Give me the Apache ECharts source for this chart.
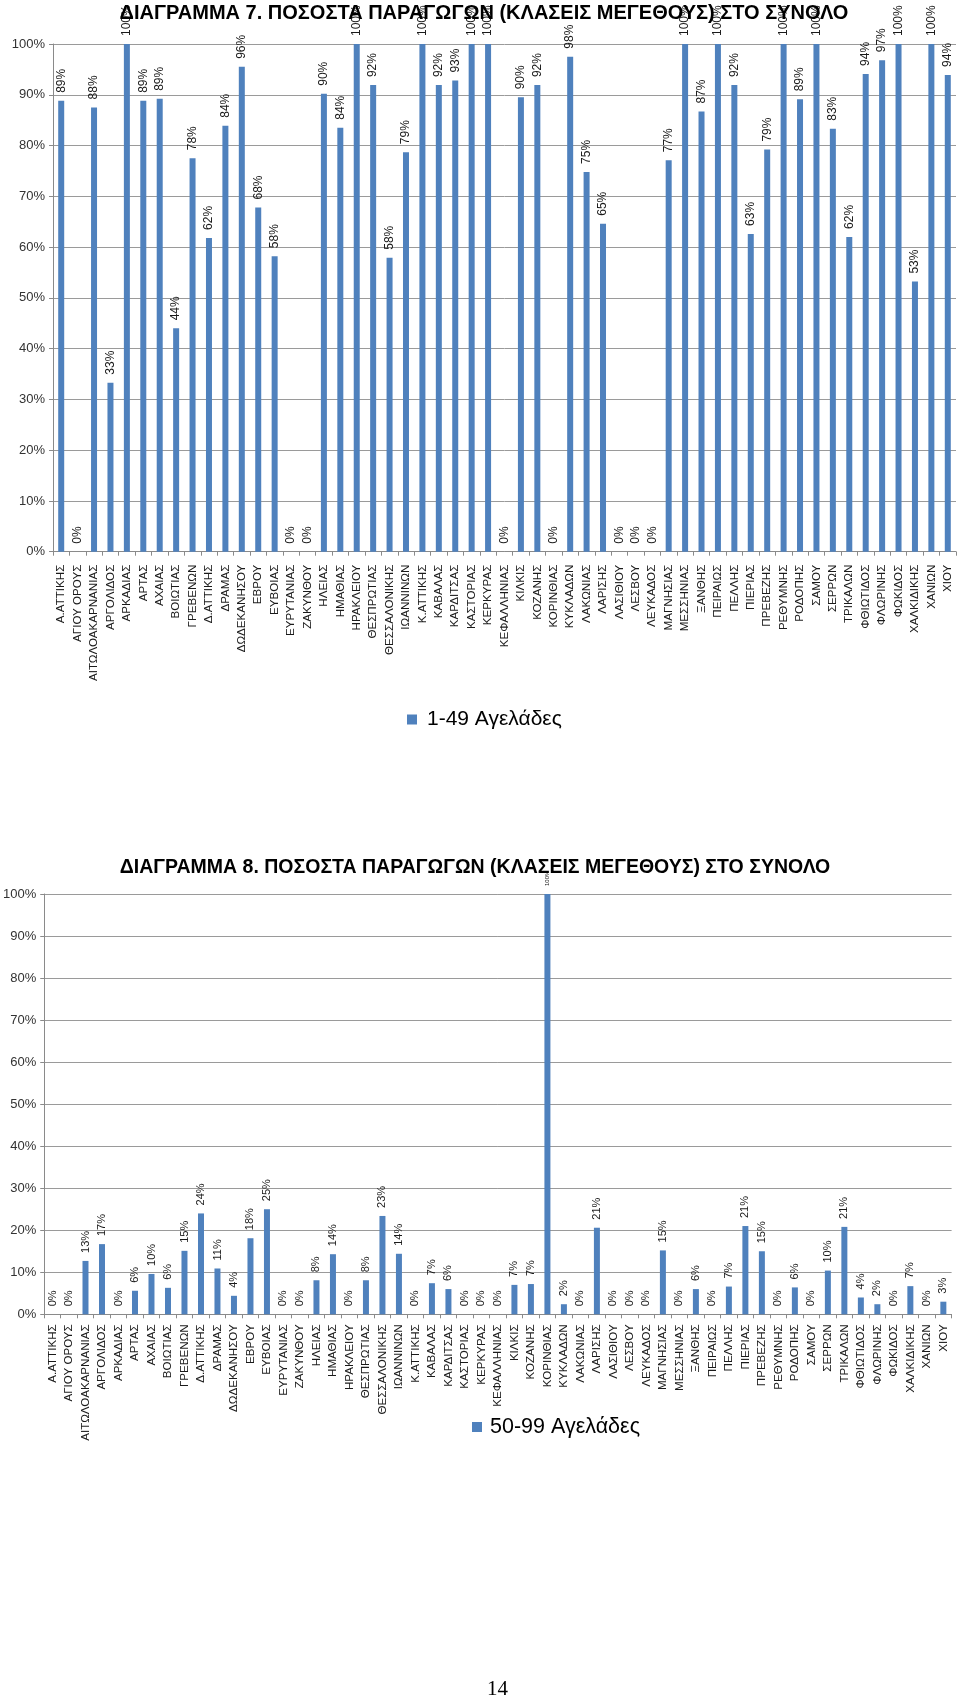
<!DOCTYPE html>
<html>
<head>
<meta charset="utf-8">
<script src="https://cdn.jsdelivr.net/npm/echarts@6/dist/echarts.min.js"></script>
<style>
html,body{margin:0;padding:0;background:#fff;}
#main{width:960px;height:1699px;}
</style>
</head>
<body>
<div id="main"></div>
<script>
const categories = ['Α.ΑΤΤΙΚΗΣ','ΑΓΙΟΥ ΟΡΟΥΣ','ΑΙΤΩΛΟΑΚΑΡΝΑΝΙΑΣ','ΑΡΓΟΛΙΔΟΣ','ΑΡΚΑΔΙΑΣ','ΑΡΤΑΣ','ΑΧΑΙΑΣ','ΒΟΙΩΤΙΑΣ','ΓΡΕΒΕΝΩΝ','Δ.ΑΤΤΙΚΗΣ','ΔΡΑΜΑΣ','ΔΩΔΕΚΑΝΗΣΟΥ','ΕΒΡΟΥ','ΕΥΒΟΙΑΣ','ΕΥΡΥΤΑΝΙΑΣ','ΖΑΚΥΝΘΟΥ','ΗΛΕΙΑΣ','ΗΜΑΘΙΑΣ','ΗΡΑΚΛΕΙΟΥ','ΘΕΣΠΡΩΤΙΑΣ','ΘΕΣΣΑΛΟΝΙΚΗΣ','ΙΩΑΝΝΙΝΩΝ','Κ.ΑΤΤΙΚΗΣ','ΚΑΒΑΛΑΣ','ΚΑΡΔΙΤΣΑΣ','ΚΑΣΤΟΡΙΑΣ','ΚΕΡΚΥΡΑΣ','ΚΕΦΑΛΛΗΝΙΑΣ','ΚΙΛΚΙΣ','ΚΟΖΑΝΗΣ','ΚΟΡΙΝΘΙΑΣ','ΚΥΚΛΑΔΩΝ','ΛΑΚΩΝΙΑΣ','ΛΑΡΙΣΗΣ','ΛΑΣΙΘΙΟΥ','ΛΕΣΒΟΥ','ΛΕΥΚΑΔΟΣ','ΜΑΓΝΗΣΙΑΣ','ΜΕΣΣΗΝΙΑΣ','ΞΑΝΘΗΣ','ΠΕΙΡΑΙΩΣ','ΠΕΛΛΗΣ','ΠΙΕΡΙΑΣ','ΠΡΕΒΕΖΗΣ','ΡΕΘΥΜΝΗΣ','ΡΟΔΟΠΗΣ','ΣΑΜΟΥ','ΣΕΡΡΩΝ','ΤΡΙΚΑΛΩΝ','ΦΘΙΩΤΙΔΟΣ','ΦΛΩΡΙΝΗΣ','ΦΩΚΙΔΟΣ','ΧΑΛΚΙΔΙΚΗΣ','ΧΑΝΙΩΝ','ΧΙΟΥ'];

// ΔΙΑΓΡΑΜΜΑ 7: 1-49 Αγελάδες (%)
const values1to49 = [88.8,0,87.5,33.3,100,88.8,89.2,44.0,77.5,61.8,83.9,95.5,67.8,58.2,0,0,90.2,83.5,100,91.9,57.9,78.7,100,91.9,92.8,100,100,0,89.5,91.9,0,97.5,74.8,64.6,0,0,0,77.1,100,86.7,100,91.9,62.6,79.2,100,89.1,100,83.3,62.0,94.1,96.8,100,53.2,100,93.9];

// ΔΙΑΓΡΑΜΜΑ 8: 50-99 Αγελάδες (%)
const values50to99 = [0,0,12.7,16.7,0,5.6,9.6,6.3,15.1,24.0,10.9,4.4,18.1,25.0,0,0,8.1,14.3,0,8.1,23.4,14.4,0,7.4,6.0,0,0,0,7.0,7.2,100,2.4,0,20.6,0,0,0,15.2,0,6.0,0,6.6,21.0,15.0,0,6.4,0,10.4,20.8,4.0,2.4,0,6.7,0,3.0];

const yTicks = [0,10,20,30,40,50,60,70,80,90,100];

const seriesName1 = '1-49 Αγελάδες';
const seriesName2 = '50-99 Αγελάδες';
const title1 = 'ΔΙΑΓΡΑΜΜΑ 7. ΠΟΣΟΣΤΑ ΠΑΡΑΓΩΓΩΝ (ΚΛΑΣΕΙΣ ΜΕΓΕΘΟΥΣ) ΣΤΟ ΣΥΝΟΛΟ';
const title2 = 'ΔΙΑΓΡΑΜΜΑ 8. ΠΟΣΟΣΤΑ ΠΑΡΑΓΩΓΩΝ (ΚΛΑΣΕΙΣ ΜΕΓΕΘΟΥΣ) ΣΤΟ ΣΥΝΟΛΟ';
const pageNumber = '14';

const BLUE = '#4F81BD';
const GRID = '#9a9a9a';
const FONT = "'Liberation Sans', Arial, sans-serif";

function xAxisCfg(gridIndex, margin) {
  return {
    type: 'category', gridIndex: gridIndex, data: categories,
    axisLine: {lineStyle: {color: '#8a8a8a', width: 1}},
    axisTick: {show: true, interval: 0, length: 4, lineStyle: {color: '#8a8a8a'}},
    axisLabel: {interval: 0, rotate: 90, margin: margin, fontSize: 11.6, color: '#1a1a1a', fontFamily: FONT}
  };
}
function yAxisCfg(gridIndex, fs) {
  return {
    type: 'value', gridIndex: gridIndex, min: yTicks[0], max: yTicks[yTicks.length-1], interval: yTicks[1]-yTicks[0],
    axisLine: {show: true, lineStyle: {color: '#8a8a8a'}},
    axisTick: {show: true, length: 4, lineStyle: {color: '#8a8a8a'}},
    splitLine: {show: true, lineStyle: {color: GRID, width: 1}},
    axisLabel: {formatter: '{value}%', fontSize: fs, color: '#333', margin: 8, fontFamily: FONT}
  };
}
function labelCfg(fs) {
  return {
    show: true, position: 'top', rotate: 90, align: 'left', verticalAlign: 'middle',
    distance: 8, fontSize: fs, color: '#1a1a1a', fontFamily: FONT,
    formatter: p => Math.round(p.value) + '%'
  };
}

const chart = echarts.init(document.getElementById('main'), null, {renderer: 'canvas'});
chart.setOption({
  backgroundColor: '#fff',
  animation: false,
  title: [
    {text: title1, left: 484, textAlign: 'center', top: 3, padding: 0,
     textStyle: {fontSize: 20, fontWeight: 'bold', color: '#000', fontFamily: FONT}},
    {text: title2, left: 475, textAlign: 'center', top: 858, padding: 0,
     textStyle: {fontSize: 19.5, fontWeight: 'bold', color: '#000', fontFamily: FONT}}
  ],
  legend: [
    {data: [seriesName1], left: 407, top: 709, padding: 0, icon: 'rect', itemWidth: 10, itemHeight: 10,
     textStyle: {fontSize: 21, color: '#000', fontFamily: FONT, padding: [0,0,0,5]}},
    {data: [seriesName2], left: 472, top: 1416, padding: 0, icon: 'rect', itemWidth: 10, itemHeight: 10,
     textStyle: {fontSize: 21.5, color: '#000', fontFamily: FONT, padding: [0,0,0,3]}}
  ],
  grid: [
    {left: 53, top: 44, width: 903, height: 507.7},
    {left: 39, top: 894, width: 912.6, height: 420.3}
  ],
  xAxis: [xAxisCfg(0, 13), xAxisCfg(1, 10)],
  yAxis: [yAxisCfg(0, 13), yAxisCfg(1, 13)],
  series: [
    {name: seriesName1, type: 'bar', xAxisIndex: 0, yAxisIndex: 0, barWidth: 6,
     itemStyle: {color: BLUE}, label: labelCfg(12), data: values1to49},
    {name: seriesName2, type: 'bar', xAxisIndex: 1, yAxisIndex: 1, barWidth: 6,
     itemStyle: {color: BLUE}, label: labelCfg(11),
     data: values50to99.map(v => v >= 100 ? {value: v, label: {fontSize: 6}} : v)}
  ],
  graphic: [
    {type: 'text', left: 487, top: 1679,
     style: {text: pageNumber, fontSize: 21, fill: '#000', fontFamily: "'Liberation Serif', 'Times New Roman', serif"}}
  ]
});
</script>
</body>
</html>
